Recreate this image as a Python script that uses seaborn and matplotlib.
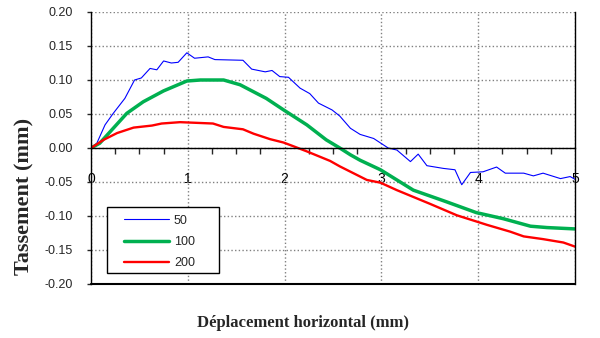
import numpy as np
import pandas as pd
import matplotlib
matplotlib.use("Agg")
import matplotlib.pyplot as plt
import seaborn as sns
from matplotlib.ticker import MultipleLocator
from matplotlib.patches import Rectangle

# Courbes tassement / deplacement horizontal
x50 = [0.0, 0.06, 0.145, 0.23, 0.35, 0.45, 0.52, 0.61, 0.68, 0.75, 0.83, 0.90, 0.99,
       1.07, 1.21, 1.28, 1.57, 1.66, 1.80, 1.87, 1.95, 2.04, 2.16, 2.26, 2.35, 2.49,
       2.57, 2.68, 2.78, 2.92, 3.07, 3.16, 3.30, 3.38, 3.47, 3.64, 3.76, 3.83, 3.92,
       4.05, 4.19, 4.28, 4.47, 4.57, 4.67, 4.85, 4.95, 5.0]
y50 = [0.0, 0.007, 0.034, 0.051, 0.073, 0.100, 0.103, 0.117, 0.115, 0.128, 0.125, 0.126, 0.140,
       0.132, 0.134, 0.130, 0.129, 0.116, 0.112, 0.114, 0.105, 0.104, 0.088, 0.080, 0.066, 0.056,
       0.047, 0.029, 0.020, 0.014, 0.000, -0.003, -0.020, -0.009, -0.026, -0.030, -0.032, -0.054, -0.036,
       -0.035, -0.028, -0.037, -0.037, -0.041, -0.037, -0.045, -0.042, -0.046]

x100 = [0.0, 0.09, 0.23, 0.37, 0.54, 0.75, 0.99, 1.13, 1.37, 1.54, 1.81, 1.99, 2.23,
        2.43, 2.57, 2.68, 2.78, 2.99, 3.33, 3.67, 3.98, 4.26, 4.54, 4.71, 5.0]
y100 = [0.0, 0.007, 0.029, 0.051, 0.068, 0.084, 0.0985, 0.100, 0.100, 0.093, 0.073, 0.056, 0.034,
        0.012, 0.000, -0.010, -0.018, -0.032, -0.062, -0.079, -0.095, -0.104, -0.115, -0.117, -0.119]

x200 = [0.0, 0.13, 0.27, 0.44, 0.63, 0.73, 0.92, 1.26, 1.37, 1.57, 1.68, 1.85, 1.99, 2.12,
        2.23, 2.47, 2.57, 2.85, 2.99, 3.16, 3.33, 3.50, 3.78, 3.98, 4.09, 4.33, 4.47, 4.67,
        4.88, 5.0]
y200 = [0.0, 0.012, 0.022, 0.030, 0.033, 0.036, 0.038, 0.036, 0.031, 0.0275, 0.021, 0.013, 0.008, 0.001,
        -0.005, -0.019, -0.027, -0.047, -0.051, -0.062, -0.072, -0.082, -0.099, -0.108, -0.113, -0.123, -0.130, -0.134,
        -0.139, -0.145]

series = ["50", "100", "200"]
x_ticks = [0, 1, 2, 3, 4, 5]
y_ticks = [0.20, 0.15, 0.10, 0.05, 0.00, -0.05, -0.10, -0.15, -0.20]
y_tick_labels = ["0.20", "0.15", "0.10", "0.05", "0.00", "-0.05", "-0.10", "-0.15", "-0.20"]

sns.set_style("white")
plt.rcParams['font.family'] = ['Liberation Sans', 'DejaVu Sans']

W, H = 600, 338
fig = plt.figure(figsize=(6, 3.38), dpi=100)
ax = fig.add_axes([91 / W, 1 - 284 / H, 484 / W, 272 / H])

styles = {"50": ("#0000FF", 0.8), "100": ("#00B050", 2.5), "200": ("#FF0000", 1.7)}
for name, xs, ys in zip(series, [x50, x100, x200], [y50, y100, y200]):
    d = pd.DataFrame({"x": xs, "y": ys})
    col, lw = styles[name]
    sns.lineplot(data=d, x="x", y="y", ax=ax, color=col, linewidth=lw,
                 sort=False, estimator=None, label=name, legend=False)

ax.set_xlim(0, 5)
ax.set_ylim(-0.2, 0.2)
ax.set_xticks(x_ticks)
ax.set_xticklabels([str(t) for t in x_ticks], fontsize=12)
ax.xaxis.set_minor_locator(MultipleLocator(0.25))
ax.set_yticks(y_ticks)
ax.set_yticklabels(y_tick_labels, fontsize=9)

ax.grid(True, which="major", color="#808080", linestyle=":", linewidth=1.0)
ax.set_axisbelow(True)

# axe des x sur y = 0
ax.spines['bottom'].set_position(('data', 0))
ax.spines['top'].set_visible(False)
for s in ['left', 'right', 'bottom']:
    ax.spines[s].set_color("black")
    ax.spines[s].set_linewidth(1.0)
ax.axhline(-0.2, color="black", linewidth=1.5, clip_on=False)

ax.tick_params(axis='x', which='major', direction='out', length=4, width=1, pad=13, colors='black')
ax.tick_params(axis='x', which='minor', direction='out', length=4, width=1, bottom=True)
ax.tick_params(axis='y', which='major', direction='out', length=3, width=1, pad=10, left=True)

ax.set_xlabel("")
ax.set_ylabel("")
fig.text(24 / W, 1 - 196 / H, "Tassement (mm)", rotation=90, ha='center', va='center',
         fontsize=16, fontweight='bold', family=['Liberation Serif', 'DejaVu Serif'])
fig.text(303 / W, 1 - 323 / H, "Déplacement horizontal (mm)", ha='center', va='center',
         fontsize=12, fontweight='bold', family=['Liberation Serif', 'DejaVu Serif'])

# cadre de la legende
box = Rectangle((107 / W, 1 - 273 / H), 112 / W, 66 / H, transform=fig.transFigure,
                facecolor="white", edgecolor="black", linewidth=1.0, zorder=2)
fig.patches.append(box)

handles, labels = ax.get_legend_handles_labels()
leg = fig.legend(handles, labels, loc='upper left', bbox_to_anchor=(124 / W, 1 - 214.5 / H),
                 fontsize=9, frameon=False, borderaxespad=0, borderpad=0,
                 handlelength=3.6, handletextpad=0.4, labelspacing=0.75)
leg.set_zorder(3)

fig.savefig("out.png", dpi=100)
